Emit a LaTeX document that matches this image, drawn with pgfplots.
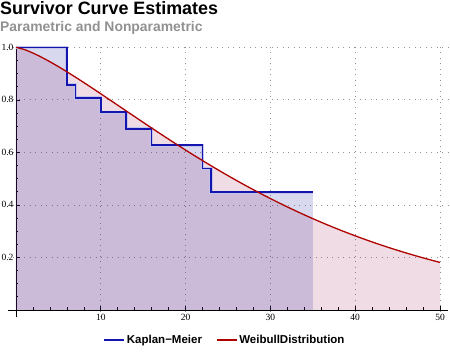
\documentclass[border=0pt]{standalone}
\usepackage{fontspec}
\setmainfont{Liberation Serif}
\newfontfamily\headfont{Liberation Sans}
\usepackage{pgfplots}
\pgfplotsset{compat=1.18}
\definecolor{kmblue}{RGB}{20,20,175}
\definecolor{wbred}{RGB}{175,0,0}
\definecolor{kmfill}{RGB}{40,40,160}
\definecolor{wbfill}{RGB}{150,20,80}
\definecolor{subgray}{RGB}{145,145,145}
\begin{document}
\begin{tikzpicture}[x=1pt,y=1pt]
\useasboundingbox (0,0) rectangle (450,354);
\node[anchor=base west,inner sep=0pt,font=\headfont\bfseries\fontsize{17.9}{20}\selectfont] at (0,339) {Survivor Curve Estimates};
\node[anchor=base west,inner sep=0pt,font=\headfont\bfseries\fontsize{13.9}{16}\selectfont,text=subgray] at (0,322) {Parametric and Nonparametric};
\begin{axis}[
  at={(7.5pt,37pt)}, anchor=south west,
  scale only axis, width=441pt, height=271pt,
  xmin=-1, xmax=51, ymin=-0.027, ymax=1.005,
  axis lines=middle, axis line style={-, black, line width=0.8pt},
  xtick={10,20,30,40,50}, ytick={0.2,0.4,0.6,0.8,1.0},
  minor xtick={2,4,6,8,12,14,16,18,22,24,26,28,32,34,36,38,42,44,46,48},
  minor ytick={0.05,0.1,0.15,0.25,0.3,0.35,0.45,0.5,0.55,0.65,0.7,0.75,0.85,0.9,0.95},
  tick align=inside, major tick length=4pt, minor tick length=2.5pt,
  tick style={black, line width=0.6pt},
  yticklabel style={/pgf/number format/fixed, /pgf/number format/fixed zerofill, /pgf/number format/precision=1, xshift=1pt},
  /pgf/number format/assume math mode=true,
  ticklabel style={font=\fontsize{9.5}{11}\selectfont},
  xticklabel style={yshift=-0.5pt},
  grid=major, major grid style={dash pattern=on 0.9pt off 4.6pt, gray!85, line width=0.7pt},
  legend columns=2,
  legend style={at={(0.493,-0.085)}, anchor=center, draw=none, fill=none,
    font=\headfont\bfseries\fontsize{11.5}{13}\selectfont,
    /tikz/every even column/.append style={column sep=12pt}},
  legend cell align=left,
  legend image code/.code={\draw[#1] (0pt,0pt) -- (20pt,0pt);},
  clip=false,
]
% Weibull fill
\addplot[draw=none, fill=wbfill, fill opacity=0.15, forget plot] coordinates {
(0,1)(1,0.9913)(2,0.9781)(3,0.9624)(4,0.9451)(5,0.9265)(6,0.9069)(7,0.8867)(8,0.8658)(9,0.8446)(10,0.8230)
(12,0.7795)(14,0.7359)(16,0.6926)(18,0.6501)(20,0.6087)(22,0.5686)(24,0.5300)(26,0.4929)(28,0.4576)
(30,0.4240)(32,0.3921)(34,0.3620)(35,0.3476)(36,0.3336)(38,0.3070)(40,0.2821)(42,0.2588)(44,0.2371)
(46,0.2169)(48,0.1982)(50,0.1808)} \closedcycle;
% KM fill
\addplot[const plot, draw=none, fill=kmfill, fill opacity=0.18, forget plot] coordinates {
(0,1)(6,0.857)(7,0.807)(10,0.753)(13,0.690)(16,0.627)(22,0.538)(23,0.448)(35,0.448)} \closedcycle;
% KM halo
\addplot[const plot, draw=kmblue!25, line width=3.2pt, forget plot] coordinates {
(0,1)(6,0.857)(7,0.807)(10,0.753)(13,0.690)(16,0.627)(22,0.538)(23,0.448)(35,0.448)};
% KM line
\addplot[const plot, draw=kmblue, line width=1.6pt] coordinates {
(0,1)(6,0.857)(7,0.807)(10,0.753)(13,0.690)(16,0.627)(22,0.538)(23,0.448)(35,0.448)};
\addlegendentry{Kaplan\textminus Meier}
% Weibull line
\addplot[smooth, draw=wbred, line width=1.3pt] coordinates {
(0,1)(1,0.9913)(2,0.9781)(3,0.9624)(4,0.9451)(5,0.9265)(6,0.9069)(7,0.8867)(8,0.8658)(9,0.8446)(10,0.8230)
(12,0.7795)(14,0.7359)(16,0.6926)(18,0.6501)(20,0.6087)(22,0.5686)(24,0.5300)(26,0.4929)(28,0.4576)
(30,0.4240)(32,0.3921)(34,0.3620)(36,0.3336)(38,0.3070)(40,0.2821)(42,0.2588)(44,0.2371)
(46,0.2169)(48,0.1982)(50,0.1808)};
\addlegendentry{WeibullDistribution}
\end{axis}
\end{tikzpicture}
\end{document}
